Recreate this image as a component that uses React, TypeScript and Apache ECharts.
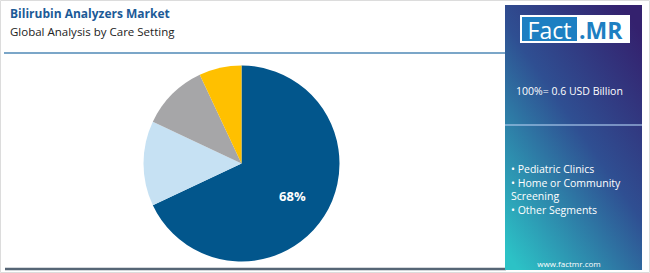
import React, { useEffect, useRef } from "react";
import * as echarts from "echarts";

const categories = ["Hospitals & NICUs", "Pediatric Clinics", "Home or Community Screening", "Other Segments"];
const shares = [68, 14, 11, 7];
const colors = ["#02568c", "#c6e1f3", "#a6a6a8", "#ffc000"];
const legendLines = ["• Pediatric Clinics", "• Home or Community", "Screening", "• Other Segments"];
const title = "Bilirubin Analyzers Market";
const subtitle = "Global Analysis by Care Setting";
const totalText = "100%= 0.6 USD Billion";

const FONT = "'Open Sans', 'Noto Sans', sans-serif";

export default function App() {
  const ref = useRef<HTMLDivElement>(null);
  useEffect(() => {
    document.body.style.margin = "0";
    const chart = echarts.init(ref.current!, null, { renderer: "svg" });
    chart.setOption({
      animation: false,
      backgroundColor: "#ffffff",
      series: [
        {
          type: "pie",
          center: [241.5, 163.5],
          radius: 98,
          startAngle: 90,
          clockwise: true,
          silent: true,
          itemStyle: { borderWidth: 0 },
          label: {
            show: true,
            position: "inside",
            color: "#ffffff",
            fontFamily: FONT,
            fontWeight: "bold",
            fontSize: 13,
            offset: [7, 5],
            formatter: (p: any) => (p.dataIndex === 0 ? p.value + "%" : ""),
          },
          labelLine: { show: false },
          data: categories.map((n, i) => ({ name: n, value: shares[i], itemStyle: { color: colors[i] } })),
        },
      ],
      graphic: [
        { type: "rect", shape: { x: 0.5, y: 0.5, width: 649, height: 272 }, style: { fill: "none", stroke: "#dcdcdc", lineWidth: 1 }, z: 0 },
        { type: "text", x: 10, y: 13, style: { text: title, fill: "#1c5a97", font: `bold 12px ${FONT}`, verticalAlign: "middle" } },
        { type: "text", x: 10, y: 31, style: { text: subtitle, fill: "#222222", font: `11.5px ${FONT}`, verticalAlign: "middle" } },
        { type: "line", shape: { x1: 4, y1: 53, x2: 506, y2: 53 }, style: { stroke: "#7ba6c8", lineWidth: 2 } },
        { type: "line", shape: { x1: 5, y1: 269, x2: 506, y2: 269 }, style: { stroke: "#566676", lineWidth: 2.5 } },
        {
          type: "rect",
          shape: { x: 505, y: 5, width: 137, height: 265 },
          style: {
            fill: new echarts.graphic.LinearGradient(0.85, 0, 0.1, 1, [
              { offset: 0, color: "#34216e" },
              { offset: 0.45, color: "#2f4f92" },
              { offset: 1, color: "#2cc2c6" },
            ]),
          },
        },
        { type: "line", shape: { x1: 505, y1: 125, x2: 642, y2: 125 }, style: { stroke: "rgba(170,200,235,0.6)", lineWidth: 2 } },
        { type: "rect", shape: { x: 520, y: 15, width: 110, height: 28 }, style: { fill: "#ffffff" } },
        { type: "rect", shape: { x: 522, y: 17, width: 55, height: 24 }, style: { fill: "#1d7fc2" } },
        { type: "text", x: 549.5, y: 29.5, style: { text: "Fact", fill: "#ffffff", font: `23px ${FONT}`, align: "center", verticalAlign: "middle" } },
        { type: "text", x: 579, y: 29.5, style: { text: ".MR", fill: "#1d7fc2", font: `bold 23px ${FONT}`, align: "left", verticalAlign: "middle" } },
        { type: "text", x: 516, y: 91, style: { text: totalText, fill: "#ffffff", font: `10.5px ${FONT}`, verticalAlign: "middle" } },
        ...legendLines.map((t, i) => ({
          type: "text",
          x: 511,
          y: 169 + i * 13.7,
          style: { text: t, fill: "#ffffff", font: `10.5px ${FONT}`, verticalAlign: "middle" },
        })),
        { type: "text", x: 569, y: 263, style: { text: "www.factmr.com", fill: "#ffffff", font: `8px ${FONT}`, align: "center", verticalAlign: "middle" } },
      ],
    });
    return () => chart.dispose();
  }, []);
  return <div ref={ref} style={{ width: 650, height: 273, position: "absolute", left: 0, top: 0 }} />;
}
